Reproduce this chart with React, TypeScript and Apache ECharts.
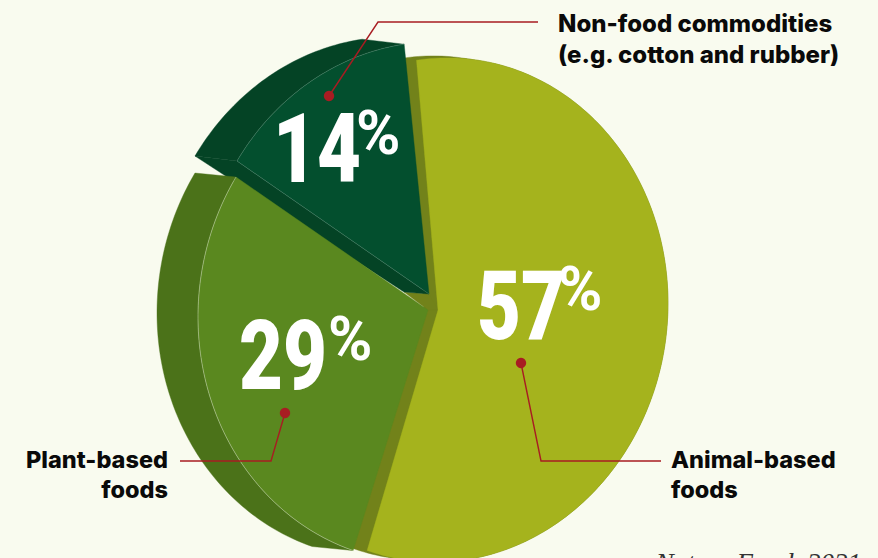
import React, { useEffect, useRef } from "react";
import * as echarts from "echarts";

// Share of land use by product group, in percent.
const categories = ["Animal-based foods", "Plant-based foods", "Non-food commodities"];
const shares = [57, 29, 14];
const source = "Nature Food, 2021";

const PAGE = "#f9fbef";
const INK = "#0a0a0a";
const LEADER = "#a81c22";
const BIG_FONT = "Roboto, sans-serif";
const LABEL_FONT = "Inter, Lato, sans-serif";

// Pseudo-3D wedge geometry: every slice is a slightly sheared ellipse sector whose
// arc runs around `centre`, with its point at `hub`, extruded by `side` to form the rim.
const RY = 252;
const SHEAR = 0.03;
const START_DEG = -6.2;
const wedgeLook = [
  { hub: [438, 310], centre: [441, 310], rx: 227, side: [-14, -2], top: "#a5b31d", rim: "#72821a", seam: null },
  { hub: [428, 310], centre: [428, 310], rx: 230, side: [-41, -4], top: "#5a881f", rim: "#4b7219", seam: "rgba(255,255,255,0.5)" },
  { hub: [429, 294], centre: [429, 294], rx: 230, side: [-42, -5], top: "#034f2e", rim: "#044325", seam: "rgba(255,255,255,0.22)" },
];

const total = shares.reduce((a, b) => a + b, 0);
const angles: number[][] = [];
shares.reduce((from, v) => {
  const to = from + (v / total) * 360;
  angles.push([from, to]);
  return to;
}, START_DEG);

function arc(i: number, dx = 0, dy = 0): number[][] {
  const [from, to] = angles[i];
  const { centre, rx } = wedgeLook[i];
  const steps = Math.max(12, Math.ceil(to - from));
  const pts: number[][] = [];
  for (let s = 0; s <= steps; s++) {
    const a = ((from + ((to - from) * s) / steps) * Math.PI) / 180;
    const ox = rx * Math.sin(a);
    const oy = -RY * Math.cos(a) - SHEAR * ox;
    pts.push([centre[0] + dx + ox, centre[1] + dy + oy]);
  }
  return pts;
}

function poly(points: number[][], fill: string) {
  return { type: "polygon", shape: { points }, style: { fill, stroke: fill, lineWidth: 0.4 } };
}

function seamLine(points: number[][], stroke: string) {
  return { type: "polyline", shape: { points }, style: { stroke, lineWidth: 0.7, fill: "none" } };
}

// Rim of a wedge: the band between its outer arc and the same arc moved by `side`.
function rim(i: number) {
  const { side, hub, rim: fill } = wedgeLook[i];
  const outer = arc(i);
  const moved = arc(i, side[0], side[1]);
  const parts = [poly([...outer, ...moved.slice().reverse()], fill)];
  if (i === 2) {
    // The lifted wedge also shows its radial wall below the top face.
    const hubMoved = [hub[0] - 25, hub[1] - 2];
    parts.push(poly([outer[0], hub, hubMoved, moved[0]], fill));
  }
  return parts;
}

// The olive wall behind the large wedge, including the fold at the centre.
function animalWall() {
  const { side, hub, rim: fill } = wedgeLook[0];
  const outer = arc(0);
  const moved = arc(0, side[0], side[1]);
  const hubMoved = [hub[0] + side[0], hub[1] + side[1]];
  const foldHub = wedgeLook[2].hub;
  const fold = [[foldHub[0] - 25, foldHub[1] - 2], foldHub, hub, wedgeLook[1].hub];
  return [poly([hubMoved, ...moved], fill), poly([hub, ...outer], fill), poly(fold, fill)];
}

function face(i: number) {
  const { hub, top, seam } = wedgeLook[i];
  const outer = arc(i);
  const parts: any[] = [poly([hub, ...outer], top)];
  if (seam) parts.push(seamLine(outer, seam));
  if (seam && i === 2) parts.push(seamLine([outer[0], hub], seam));
  return parts;
}

// Painter's order: olive wall at the back, the lifted wedge next, then the
// plant wedge, and the large top face last.
const paintOrder = ["wall", "nonFood", "plant", "animal"];

function renderLayer(params: any) {
  const layer = paintOrder[params.dataIndex];
  let children: any[] = [];
  if (layer === "wall") children = animalWall();
  if (layer === "nonFood") children = [...rim(2), ...face(2)];
  if (layer === "plant") children = [...rim(1), ...face(1)];
  if (layer === "animal") children = face(0);
  return { type: "group", children };
}

function bigValue(value: number, x: number, midY: number, pctX: number, pctMidY: number) {
  return [
    {
      type: "text",
      z: 100,
      x,
      y: midY,
      scaleX: 0.79,
      style: { text: String(value), fill: "#fff", font: `900 96px ${BIG_FONT}`, align: "left", verticalAlign: "middle" },
    },
    {
      type: "text",
      z: 100,
      x: pctX,
      y: pctMidY,
      scaleX: 0.97,
      style: { text: "%", fill: "#fff", font: `700 62px ${BIG_FONT}`, align: "left", verticalAlign: "middle" },
    },
  ];
}

function leader(points: number[][]) {
  return [
    { type: "polyline", z: 90, shape: { points }, style: { stroke: LEADER, lineWidth: 1.4, fill: "none" } },
    { type: "circle", z: 91, shape: { cx: points[0][0], cy: points[0][1], r: 5.2 }, style: { fill: LEADER } },
  ];
}

function label(text: string, x: number, y: number, align: string, size = 24) {
  return {
    type: "text",
    z: 100,
    x,
    y,
    style: { text, fill: INK, font: `800 ${size}px ${LABEL_FONT}`, align, verticalAlign: "middle" },
  };
}

export default function App() {
  const ref = useRef<HTMLDivElement>(null);
  useEffect(() => {
    document.body.style.margin = "0";
    document.body.style.background = PAGE;
    const chart = echarts.init(ref.current!, undefined, { renderer: "svg" });
    chart.setOption({
      animation: false,
      backgroundColor: PAGE,
      series: [
        {
          type: "custom",
          coordinateSystem: "none",
          name: categories.join(", "),
          silent: true,
          clip: false,
          data: paintOrder.map((_, i) => i),
          renderItem: renderLayer,
        },
      ],
      graphic: {
        elements: [
          ...bigValue(shares[0], 477, 306, 558, 289),
          ...bigValue(shares[1], 239, 356, 328, 339),
          ...bigValue(shares[2], 273, 149, 356, 133),
          ...leader([[329, 96], [378, 22], [538, 22]]),
          ...leader([[285, 413], [271, 461], [180, 461]]),
          ...leader([[521, 363], [541, 461], [661, 461]]),
          label("Non-food commodities", 558, 23, "left"),
          label("(e.g. cotton and rubber)", 558, 54, "left"),
          label("Plant-based", 168, 459, "right", 23.5),
          label("foods", 168, 489, "right", 23.5),
          label("Animal-based", 671, 459, "left", 23.5),
          label("foods", 671, 489, "left", 23.5),
          {
            type: "text",
            z: 100,
            x: 861,
            y: 549,
            style: { text: source, fill: "#333", font: 'italic 400 27px "Liberation Serif", serif', align: "right", verticalAlign: "top" },
          },
        ],
      },
    });
    return () => chart.dispose();
  }, []);
  return <div ref={ref} style={{ width: 878, height: 558 }} />;
}
